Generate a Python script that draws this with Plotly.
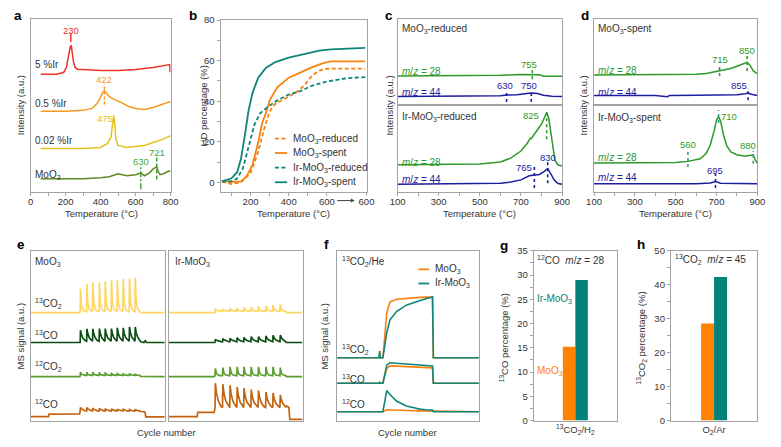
import plotly.graph_objects as go

W, H = 781, 447
FONT = "Liberation Sans"
AX = "#a3a3a3"
TXT = "#333333"

# ======================= DATA =======================
# (a) stacked intensity traces (a.u.) vs temperature (°C)
a_x_5ir = [58, 150, 190, 205, 215, 222, 228, 233, 238, 245, 255, 270, 300, 400, 500, 600, 700, 760, 790, 795, 797]
a_y_5ir = [121, 121, 123, 128, 138, 147, 150, 150, 144, 134, 128, 126, 126, 125, 125, 126, 128, 130, 131, 131, 123]
a_x_05ir = [58, 200, 300, 350, 380, 400, 415, 422, 430, 450, 480, 520, 560, 600, 650, 700, 750, 800]
a_y_05ir = [83, 83, 84, 86, 91, 98, 103, 104, 102, 98, 95, 92, 88, 86, 85, 87, 90, 93]
a_x_002ir = [58, 300, 400, 440, 460, 470, 475, 480, 487, 500, 550, 600, 650, 700, 750, 800]
a_y_002ir = [45, 45, 46, 50, 57, 75, 79, 72, 55, 48, 46, 47, 48, 51, 54, 58]
a_x_moo3 = [58, 200, 300, 400, 450, 500, 550, 600, 630, 650, 680, 700, 715, 721, 728, 740, 760, 780, 800]
a_y_moo3 = [14, 14, 14, 15, 16, 19, 17, 18, 20, 17, 20, 24, 26, 26, 22, 18, 19, 21, 22]
a_labels = ["5 %Ir", "0.5 %Ir", "0.02 %Ir", "MoO<sub>3</sub>"]
a_peaks = [230, 422, 475, 630, 721]

# (b) HD percentage (%) vs temperature (°C); x > 600 is time at 600 °C
b_x_mo_red = [50, 100, 150, 200, 240, 270, 300, 330, 380, 440, 480, 520, 560, 600, 700, 800]
b_y_mo_red = [0.3, -0.8, 0, 4.5, 15, 26, 35, 38.8, 41.2, 44.4, 47.6, 52.4, 55.1, 56, 56.1, 56.1]
b_x_mo_spent = [50, 100, 150, 180, 210, 240, 260, 280, 300, 340, 400, 450, 520, 580, 620, 700, 800]
b_y_mo_spent = [0.5, 0.3, 0.5, 3, 8.6, 19.6, 29, 34, 40.4, 46.8, 51.6, 53.7, 56.7, 58.8, 59.6, 59.6, 59.6]
b_x_ir_red = [50, 100, 130, 160, 180, 200, 220, 250, 290, 340, 400, 460, 520, 600, 700, 800]
b_y_ir_red = [0.5, 0.5, 1.9, 6.9, 14, 22, 28.4, 34, 37.2, 40.4, 43.3, 44.9, 47.6, 49.7, 51.3, 51.9]
b_x_ir_spent = [50, 100, 130, 150, 170, 190, 210, 240, 280, 330, 400, 480, 560, 620, 700, 800]
b_y_ir_spent = [0.5, 2, 5, 11.6, 23, 35.6, 44, 51.6, 56.4, 59.3, 61.5, 63.1, 64.9, 65.6, 66, 66.3]
b_names = ["MoO<sub>3</sub>-reduced", "MoO<sub>3</sub>-spent", "Ir-MoO<sub>3</sub>-reduced", "Ir-MoO<sub>3</sub>-spent"]

# (c) MoO3-reduced (top) / Ir-MoO3-reduced (bottom), intensity a.u.
c1_x28 = [100, 300, 500, 600, 700, 755, 790, 810, 900]
c1_y28 = [30.3, 30.3, 30.5, 31, 31.7, 32, 31.5, 30, 30]
c1_x44 = [100, 300, 500, 600, 630, 680, 750, 780, 810, 850, 900]
c1_y44 = [9.3, 9.3, 9.5, 10, 10.7, 11, 12.7, 12.2, 10.5, 9.5, 9.3]
c2_x28 = [100, 400, 500, 600, 650, 700, 730, 745, 750, 770, 800, 815, 825, 835, 850, 865, 880, 900]
c2_y28 = [28.3, 28.5, 29, 31, 35, 42.3, 50, 55.5, 55, 61, 70, 77, 81.7, 76, 54.3, 33, 28, 27]
c2_x44 = [100, 500, 600, 650, 700, 740, 765, 790, 810, 830, 845, 860, 880, 900]
c2_y44 = [8.3, 8.5, 9.3, 10.5, 12.7, 17, 18, 18.3, 21, 24.3, 19, 13, 9, 8.3]
c1_peaks28 = [755]
c1_peaks44 = [630, 750]
c2_peaks28 = [825]
c2_peaks44 = [765, 830]

# (d) MoO3-spent (top) / Ir-MoO3-spent (bottom)
d1_x28 = [100, 500, 600, 650, 700, 715, 740, 770, 800, 830, 850, 865, 880, 900]
d1_y28 = [31.3, 31.5, 32, 32.7, 34.7, 36, 36.5, 38, 40.3, 43, 44.3, 41, 35.5, 32.7]
d1_x44 = [100, 400, 460, 470, 600, 800, 840, 855, 870, 900]
d1_y44 = [10.3, 10.3, 9, 10.3, 10.5, 11, 12, 12.7, 11.5, 10.3]
d2_x28 = [100, 400, 500, 560, 620, 650, 670, 690, 700, 710, 720, 735, 750, 770, 800, 840, 870, 880, 890, 900]
d2_y28 = [30, 30, 30.5, 31.7, 34.3, 40, 49, 64.3, 74, 77.7, 73, 58, 47.7, 41.5, 38.5, 37, 38.3, 38.5, 33, 30]
d2_x44 = [100, 600, 670, 695, 720, 900]
d2_y44 = [8.7, 8.7, 9.5, 11, 9.3, 8.7]
d1_peaks28 = [715, 850]
d1_peaks44 = [855]
d2_peaks28 = [560, 710, 880]
d2_peaks44 = [695]

# (e) isotope pulse MS signals (a.u.); cycle position 0-100 in each box
e_names = ["<sup>13</sup>CO<sub>2</sub>", "<sup>13</sup>CO", "<sup>12</sup>CO<sub>2</sub>", "<sup>12</sup>CO"]
# MoO3 box
eL_pk_x = [37.1, 41.9, 46.3, 51.2, 55.6, 60.2, 64.6, 69.0, 73.7, 78.0]
eL_13co2_h = [135.7, 140.7, 142.4, 142.4, 143.4, 144.7, 144.7, 145.7, 146.4, 147.4]
eL_13co_h = [93.4, 94.7, 94.7, 95, 95, 95, 95.7, 95.7, 96.7, 96.7]
eL_12co2_h = [50.5, 50, 50.5, 50, 50, 49.5, 49.5, 49, 49, 48.5]
eL_12co_h = [14.2, 14, 13.6, 13.3, 13, 12.8, 12.5, 12.2, 12, 11.8]
eL_floor = [112.4, 82, 47, 10.5]
eL_pre_x = [[0, 36.6], [0, 36.8], [0, 36.6], [0, 13.3, 13.6, 36.4]]
eL_pre_y = [[111.4, 111.4], [80.7, 80.7], [45.7, 45.7], [4.8, 4.8, 7.2, 7.6]]
eL_post_x = [[82, 100], [82, 84.5, 85.5, 86.5, 100], [82, 100], [82, 85.3, 85.8, 100]]
eL_post_y = [[111.4, 111.4], [81.5, 80.7, 82.5, 80.7, 80.7], [45.9, 45.7], [10, 9.5, 4.5, 4.5]]
# Ir-MoO3 box
eR_pk_x = [34.9, 40.5, 45.9, 51.2, 56.3, 61.7, 67.1, 72.7, 78.0, 83.4]
eR_13co2_h = [115.5, 115.5, 116, 116, 116.8, 117.2, 117.8, 118.4, 119, 120]
eR_13co_h = [84, 84.7, 85, 85.7, 86, 86.7, 86.7, 87.4, 88, 88.4]
eR_12co2_h = [54, 55, 55.7, 55.7, 55.7, 55.7, 55.7, 55.7, 55.7, 55]
eR_12co_h = [39, 38, 36.7, 35, 34, 32.4, 31.4, 30, 29, 27]
eR_floor = [112.8, 81.5, 46.7, 14]
eR_pre_x = [[0, 34.5], [0, 34.5], [0, 34.0], [0, 21.3, 21.7, 34.0]]
eR_pre_y = [[111.4, 111.4], [80.7, 80.7], [45.7, 45.7], [4.7, 4.7, 9, 9]]
eR_post_x = [[88, 100], [88, 100], [88, 100], [88.3, 89.8, 90.5, 100]]
eR_post_y = [[111.4, 111.4], [80.7, 80.7], [45.7, 45.7], [15.5, 14, 1.8, 1.8]]

# (f) 13CO2/He switching, MS signal (a.u.)
f_x = [0, 29.5, 30, 30.5, 32.3, 35, 37.3, 41.9, 48.8, 53.5, 58.1, 62.7, 67.3, 67.9, 100]
f_mo_13co2 = [65, 65, 65, 65, 65, 110.7, 122.4, 125, 126, 126.7, 127, 127.2, 127.4, 65, 65]
f_ir_13co2 = [65, 65, 72, 65, 65, 90.7, 104, 112.4, 119, 121.5, 123.4, 125.5, 127.4, 65, 65]
f_mo_13co = [39, 39, 39, 39, 39, 54, 56.7, 56.5, 56, 55.7, 55.3, 55, 54.7, 39, 39]
f_ir_13co = [39, 39, 40, 39, 39, 57.4, 60, 59.5, 58.8, 58.3, 57.8, 57.3, 56.7, 39, 39]
f_mo_12co = [9.7, 9.7, 9.7, 9.7, 9.7, 11.8, 11.6, 11.4, 11, 10.8, 10.6, 10.5, 10.4, 9.7, 9.7]
f_ir_12co = [9.7, 9.7, 9.7, 9.7, 9.7, 31.4, 27.4, 20.7, 15.7, 14, 12.4, 11.8, 11.4, 9.7, 9.7]

# (g), (h) bars
samples = ["MoO<sub>3</sub>", "Ir-MoO<sub>3</sub>"]
g_values = [15.2, 29.0]
h_values = [28.6, 42.3]
g_category = "<sup>13</sup>CO<sub>2</sub>/H<sub>2</sub>"
h_category = "O<sub>2</sub>/Ar"

# ======================= STYLE =======================
RED, ORA_A, YEL_A, OLIVE, GRN_T = "#EE3129", "#F7971E", "#E2C21D", "#5E8A22", "#3FA63A"
ORANGE, TEAL = "#F7820F", "#0E8578"
G28, B44, TEALD = "#2E9A2A", "#1C1CA0", "#2B9E8F"
E_COL = ["#FDD663", "#0B4D12", "#5A9E2F", "#C2640F"]
BAR_O, BAR_T = "#FF8200", "#00827A"


def pulse_line(pre_x, pre_y, floor, pk_x, pk_h, post_x, post_y, spacing, shape):
    rel_x = [-0.05, 0, 0.15, 0.4, 0.75]
    xs, ys = list(pre_x), list(pre_y)
    for p, h in zip(pk_x, pk_h):
        for rx, rh in zip(rel_x, shape):
            xs.append(p + rx * spacing)
            ys.append(floor + rh * (h - floor))
    return xs + list(post_x), ys + list(post_y)


SPIKE = [0, 1, 0.3, 0.08, 0.01]
SAW = [0, 1, 0.6, 0.28, 0.06]

fig = go.Figure()


def line(x, y, ax, color, width=1.5, dash=None):
    fig.add_trace(go.Scatter(x=x, y=y, mode="lines", xaxis="x" + ax, yaxis="y" + ax,
                             line=dict(color=color, width=width, dash=dash),
                             showlegend=False, hoverinfo="skip"))


# (a)
for xs, ys, c in [(a_x_5ir, a_y_5ir, RED), (a_x_05ir, a_y_05ir, ORA_A),
                  (a_x_002ir, a_y_002ir, YEL_A), (a_x_moo3, a_y_moo3, OLIVE)]:
    line(xs, ys, "1", c, 1.5)

# (b)
DASH = "4px,2.5px"
line(b_x_mo_red, b_y_mo_red, "2", ORANGE, 1.8, DASH)
line(b_x_mo_spent, b_y_mo_spent, "2", ORANGE, 1.8)
line(b_x_ir_red, b_y_ir_red, "2", TEAL, 1.8, DASH)
line(b_x_ir_spent, b_y_ir_spent, "2", TEAL, 1.8)

# (c), (d)
line(c1_x28, c1_y28, "3", G28); line(c1_x44, c1_y44, "3", B44)
line(c2_x28, c2_y28, "4", G28); line(c2_x44, c2_y44, "4", B44)
line(d1_x28, d1_y28, "5", G28); line(d1_x44, d1_y44, "5", B44)
line(d2_x28, d2_y28, "6", G28); line(d2_x44, d2_y44, "6", B44)

# (e)
eL_h = [eL_13co2_h, eL_13co_h, eL_12co2_h, eL_12co_h]
eR_h = [eR_13co2_h, eR_13co_h, eR_12co2_h, eR_12co_h]
shapesL = [SPIKE, SAW, SPIKE, SAW]
shapesR = [SPIKE, SAW, SPIKE, SAW]
for i in range(4):
    xs, ys = pulse_line(eL_pre_x[i], eL_pre_y[i], eL_floor[i], eL_pk_x, eL_h[i],
                        eL_post_x[i], eL_post_y[i], 4.5, shapesL[i])
    line(xs, ys, "7", E_COL[i], 1.7)
    xs, ys = pulse_line(eR_pre_x[i], eR_pre_y[i], eR_floor[i], eR_pk_x, eR_h[i],
                        eR_post_x[i], eR_post_y[i], 5.4, shapesR[i])
    line(xs, ys, "8", E_COL[i], 1.7)

# (f)
for ymo, yir in [(f_mo_13co2, f_ir_13co2), (f_mo_13co, f_ir_13co), (f_mo_12co, f_ir_12co)]:
    line(f_x, ymo, "9", ORANGE, 1.6)
    line(f_x, yir, "9", TEAL, 1.6)

# (g), (h)
for ax, vals in [("10", g_values), ("11", h_values)]:
    for i, (nm, col) in enumerate(zip(samples, [BAR_O, BAR_T])):
        fig.add_trace(go.Bar(x=[0], y=[vals[i]], name=nm, marker=dict(color=col, line=dict(width=0)),
                             xaxis="x" + ax, yaxis="y" + ax, showlegend=False,
                             offsetgroup=str(i), hoverinfo="skip"))

# ======================= LAYOUT =======================
TF = dict(size=9.5, color=TXT, family=FONT)


def ax_base(**kw):
    d = dict(showline=True, linecolor=AX, linewidth=1, mirror=True, showgrid=False,
             zeroline=False, ticks="", showticklabels=False, fixedrange=True,
             tickmode="array", tickvals=[])
    d.update(kw)
    return d


def ticked(vals, texts, minor_vals, xaxis=False):
    d = dict(ticks="outside", ticklen=3, tickwidth=1, tickcolor=AX, showticklabels=True,
             tickfont=TF, tickmode="array", tickvals=vals, ticktext=texts,
             minor=dict(tickmode="array", tickvals=minor_vals, ticks="outside",
                        ticklen=3, tickwidth=1, tickcolor=AX))
    if xaxis:
        d["ticklabelstandoff"] = -3
    return d


def dx(a, b): return [a / W, b / W]
def dy(a, b): return [1 - b / H, 1 - a / H]

lay = {}
specs = {
    "1": (dx(23, 166), dy(13, 191)),
    "2": (dx(217, 366), dy(14, 191)),
    "3": (dx(397.7, 565.7), dy(13, 102)),
    "4": (dx(397.7, 565.7), dy(102, 191)),
    "5": (dx(598.3, 765), dy(13, 102)),
    "6": (dx(598.3, 765), dy(102, 191)),
    "7": (dx(23.3, 160), dy(251, 425.7)),
    "8": (dx(164, 300.7), dy(251, 425.7)),
    "9": (dx(336, 480.7), dy(251, 425.7)),
    "10": (dx(536.7, 621.7), dy(251, 425)),
    "11": (dx(676.7, 765), dy(251, 425)),
}
T_CD = [100, 300, 500, 700, 900]
xextra = {
    "1": dict(range=[0, 800], **ticked([0, 200, 400, 600, 800], ["0", "200", "400", "600", "800"],
                                       [100, 300, 500, 700], True)),
    "2": dict(range=[43, 807], **ticked([200, 400, 600, 807], ["200", "400", "600", "600"],
                                        [100, 300, 500], True)),
    "3": dict(range=[100, 900]),
    "4": dict(range=[100, 900], **ticked(T_CD, [str(v) for v in T_CD], [200, 400, 600, 800], True)),
    "5": dict(range=[100, 900]),
    "6": dict(range=[100, 900], **ticked(T_CD, [str(v) for v in T_CD], [200, 400, 600, 800], True)),
    "7": dict(range=[0, 100]), "8": dict(range=[0, 100]), "9": dict(range=[0, 100]),
    "10": dict(range=[-0.5, 0.5], tickvals=[0], ticktext=[g_category],
               showticklabels=True, tickfont=TF),
    "11": dict(range=[-0.5, 0.5], tickvals=[0], ticktext=[h_category],
               showticklabels=True, tickfont=TF),
}
yextra = {
    "1": dict(range=[0, 178]),
    "2": dict(range=[-4.9, 80.2], **ticked([0, 20, 40, 60, 80], ["0", "20", "40", "60", "80"],
                                           [10, 30, 50, 70])),
    "3": dict(range=[0, 89]), "4": dict(range=[0, 89]),
    "5": dict(range=[0, 89]), "6": dict(range=[0, 89]),
    "7": dict(range=[0, 174.7]), "8": dict(range=[0, 174.7]), "9": dict(range=[0, 174.7]),
    "10": dict(range=[0, 35], **ticked(list(range(0, 40, 5)), [str(v) for v in range(0, 40, 5)],
                                       [2.5 + 5 * i for i in range(7)])),
    "11": dict(range=[0, 50], **ticked(list(range(0, 60, 10)), [str(v) for v in range(0, 60, 10)],
                                       [5, 15, 25, 35, 45])),
}
for k, (xd, yd) in specs.items():
    xn = "xaxis" if k == "1" else "xaxis" + k
    yn = "yaxis" if k == "1" else "yaxis" + k
    lay[xn] = ax_base(domain=xd, anchor="y" if k == "1" else "y" + k, **xextra[k])
    lay[yn] = ax_base(domain=yd, anchor="x" if k == "1" else "x" + k, **yextra[k])

ann = []
shapes = []


def A(text, px, py, xa="left", ya="middle", color=TXT, size=9.5, **kw):
    ann.append(dict(text=text, x=px / W, y=1 - py / H, xref="paper", yref="paper",
                    xanchor=xa, yanchor=ya, showarrow=False,
                    font=dict(color=color, size=size, family=FONT), **kw))


def DA(text, x, y, ax, color, xshift=0, size=9.5):
    ann.append(dict(text=text, x=x, y=y, xref="x" + ("" if ax == "1" else ax), yref="y" + ("" if ax == "1" else ax),
                    xanchor="center", yanchor="middle", showarrow=False, xshift=xshift,
                    font=dict(color=color, size=size, family=FONT)))


def VL(x, y0, y1, ax, color, dash="dot", width=1.6):
    r = "" if ax == "1" else ax
    shapes.append(dict(type="line", xref="x" + r, yref="y" + r, x0=x, x1=x, y0=y0, y1=y1,
                       line=dict(color=color, width=width, dash=dash)))


# panel letters
for t, px, py in [("a", 10, 10), ("b", 189, 10), ("c", 389, 10), ("d", 589, 10),
                  ("e", 13, 245), ("f", 325, 245), ("g", 506, 246), ("h", 646, 245)]:
    A("<b>%s</b>" % t, px, py, xa="center", size=13.5, color="#000")

# axis titles
for px in [95, 291, 481, 681]:
    A("Temperature (°C)", px, 213, xa="center", size=9.5)
for px, t in [(13, "Intensity (a.u.)"), (200, "HD percentage (%)"), (389, "Intensity (a.u.)"), (588, "Intensity (a.u.)")]:
    A(t, px, 102, xa="center", textangle=-90)
A("MS signal (a.u.)", 13, 338, xa="center", textangle=-90)
A("MS signal (a.u.)", 323.5, 338, xa="center", textangle=-90)
A("Cycle number", 162, 437, xa="center")
A("Cycle number", 408, 437, xa="center")
A("<sup>13</sup>CO percentage (%)", 506, 340, xa="center", textangle=-90)
A("<sup>13</sup>CO<sub>2</sub> percentage (%)", 647, 340, xa="center", textangle=-90)

# (a) labels
for lab, py in zip(a_labels, [60, 100, 138, 173]):
    A(lab, 26, py, size=10)
DA(str(a_peaks[0]), a_peaks[0], 166, "1", RED)
VL(a_peaks[0], 154, 163, "1", RED, dash="solid", width=1.5)
DA(str(a_peaks[1]), a_peaks[1], 116, "1", ORA_A)
VL(a_peaks[1], 90, 111, "1", ORA_A, dash="3px,2px", width=1.5)
DA(str(a_peaks[2]), a_peaks[2], 76, "1", YEL_A, xshift=-9)
DA(str(a_peaks[3]), a_peaks[3], 32, "1", GRN_T)
VL(a_peaks[3], 3, 28, "1", GRN_T, dash="6px,2px,2px,2px", width=1.5)
DA(str(a_peaks[4]), a_peaks[4], 40.5, "1", GRN_T)
VL(a_peaks[4], 13, 36, "1", GRN_T, dash="4px,2px", width=1.5)

# (b) legend + arrow
for (nm, col, dsh, py) in zip(b_names, [ORANGE, ORANGE, TEAL, TEAL],
                              [DASH, "solid", DASH, "solid"], [136, 150.7, 165.7, 180.7]):
    shapes.append(dict(type="line", xref="paper", yref="paper", x0=272.5 / W, x1=285 / W,
                       y0=1 - py / H, y1=1 - py / H, line=dict(color=col, width=1.8, dash=dsh)))
    A(nm, 288.5, py, size=10)
ann.append(dict(x=354 / W, y=1 - 199.5 / H, xref="paper", yref="paper", ax=-19, ay=0,
                showarrow=True, arrowhead=2, arrowsize=0.8, arrowwidth=1, arrowcolor="#444", text=""))

# (c) labels
A("MoO<sub>3</sub>-reduced", 400, 24, size=10)
A("<i>m</i>/<i>z</i> = 28", 400, 67, color=G28, size=10)
A("<i>m</i>/<i>z</i> = 44", 400, 89, color=B44, size=10)
A("Ir-MoO<sub>3</sub>-reduced", 400, 114, size=10)
A("<i>m</i>/<i>z</i> = 28", 400, 160, color=G28, size=10)
A("<i>m</i>/<i>z</i> = 44", 400, 178, color=B44, size=10)
for p in c1_peaks28:
    VL(p, 27, 37, "3", G28); DA(str(p), p, 42.5, "3", G28, xshift=-3)
for p in c1_peaks44:
    VL(p, 3.7, 15.5, "3", B44); DA(str(p), p, 21, "3", B44, xshift=-2)
for p in c2_peaks28:
    VL(p, 54.3, 84.3, "4", G28); DA(str(p), p, 79, "4", G28, xshift=-16)
for p, xs in zip(c2_peaks44, [-10, 0]):
    VL(p, 4.3 if p == 765 else 9.3, 26 if p == 765 else 31, "4", B44)
    DA(str(p), p, 25.5 if p == 765 else 36, "4", B44, xshift=xs)

# (d) labels
A("MoO<sub>3</sub>-spent", 600, 24, size=10)
A("<i>m</i>/<i>z</i> = 28", 600, 66, color=G28, size=10)
A("<i>m</i>/<i>z</i> = 44", 600, 88.5, color=B44, size=10)
A("Ir-MoO<sub>3</sub>-spent", 600, 115, size=10)
A("<i>m</i>/<i>z</i> = 28", 600, 155, color=G28, size=10)
A("<i>m</i>/<i>z</i> = 44", 600, 176, color=B44, size=10)
VL(d1_peaks28[0], 30.3, 42, "5", G28); DA(str(d1_peaks28[0]), d1_peaks28[0], 47, "5", G28)
VL(d1_peaks28[1], 35.3, 52, "5", G28); DA(str(d1_peaks28[1]), d1_peaks28[1], 56, "5", G28)
VL(d1_peaks44[0], 5.3, 18, "5", B44); DA(str(d1_peaks44[0]), d1_peaks44[0], 20.5, "5", B44, xshift=-9)
VL(d2_peaks28[0], 26, 42.7, "6", TEALD); DA(str(d2_peaks28[0]), d2_peaks28[0], 48.5, "6", G28)
VL(d2_peaks28[1], 71, 84.3, "6", TEALD); DA(str(d2_peaks28[1]), d2_peaks28[1], 78, "6", G28, xshift=10)
VL(d2_peaks28[2], 29.3, 42.7, "6", TEALD); DA(str(d2_peaks28[2]), d2_peaks28[2], 48, "6", G28, xshift=-5)
VL(d2_peaks44[0], 4.3, 19.3, "6", B44); DA(str(d2_peaks44[0]), d2_peaks44[0], 22, "6", B44)

# (e) labels
A("MoO<sub>3</sub>", 26, 262, size=10)
A("Ir-MoO<sub>3</sub>", 168.5, 262, size=10)
for nm, py in zip(e_names, [305, 337, 370, 408]):
    A(nm, 26, py, size=10)

# (f) labels
A("<sup>13</sup>CO<sub>2</sub>/He", 338.5, 262, size=10)
for nm, py in zip([e_names[0], e_names[1], e_names[3]], [352, 382, 408]):
    A(nm, 338.5, py, size=10)
for nm, col, py in zip(samples, [ORANGE, TEAL], [270, 284.5]):
    shapes.append(dict(type="line", xref="paper", yref="paper", x0=419 / W, x1=430 / W,
                       y0=1 - py / H, y1=1 - py / H, line=dict(color=col, width=1.8)))
    A(nm, 434, py, size=10)

# (g), (h) labels
A("<sup>12</sup>CO  <i>m</i>/<i>z</i> = 28", 538.5, 260, size=10)
A(samples[1], 538.5, 300, color=BAR_T, size=10)
A(samples[0], 538.5, 374.5, color=BAR_O, size=10)
A("<sup>13</sup>CO<sub>2</sub>  <i>m</i>/<i>z</i> = 45", 678.5, 260, size=10)

fig.update_layout(
    width=W, height=H, margin=dict(l=0, r=0, t=0, b=0),
    paper_bgcolor="white", plot_bgcolor="white",
    font=dict(family=FONT, size=9.5, color=TXT),
    barmode="group", bargap=0.7, bargroupgap=0,
    showlegend=False, annotations=ann, shapes=shapes, **lay)

fig.write_html("out.html")
